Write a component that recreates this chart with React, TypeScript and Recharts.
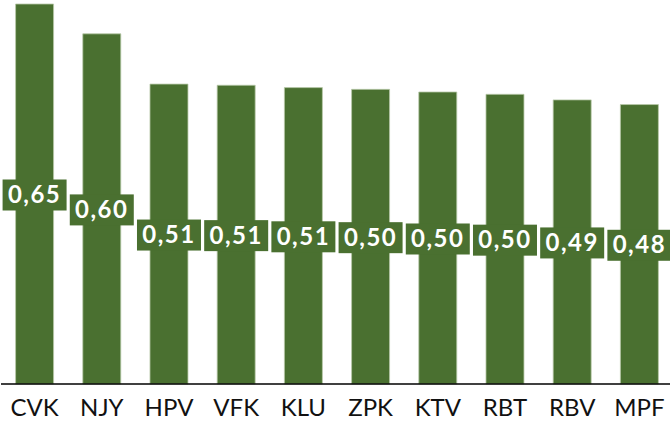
import { BarChart, Bar, XAxis, YAxis, LabelList } from 'recharts'

const categories = ['CVK', 'NJY', 'HPV', 'VFK', 'KLU', 'ZPK', 'KTV', 'RBT', 'RBV', 'MPF']
const values = [0.65, 0.599, 0.513, 0.511, 0.507, 0.504, 0.4995, 0.4955, 0.486, 0.478]

const data = categories.map((name, i) => ({ name, value: values[i] }))

const GREEN = '#4a7030'
const FONT = 'Lato, "Open Sans", sans-serif'

function fmt(v: number) {
  return v.toFixed(2).replace('.', ',')
}

function ValueLabel(props: any) {
  const { x, y, width, height, value } = props
  const cx = x + width / 2
  const cy = y + height / 2
  return (
    <g>
      <rect x={cx - 32} y={cy - 14.5} width={64} height={31} fill={GREEN} />
      <text
        x={cx}
        y={cy + 9}
        textAnchor="middle"
        fill="#ffffff"
        fontSize={24}
        fontWeight={700}
        fontFamily={FONT}
        letterSpacing={1.5}
      >
        {fmt(value)}
      </text>
    </g>
  )
}

function CategoryTick(props: any) {
  const { x, y, payload } = props
  return (
    <text x={x} y={y + 32} textAnchor="middle" fill="#111" fontSize={24} fontFamily={FONT}>
      {payload.value}
    </text>
  )
}

export default function App() {
  return (
    <div style={{ position: 'absolute', left: 0, top: 0, width: 670, height: 428, overflow: 'hidden' }}>
      <BarChart
        width={676}
        height={428}
        data={data}
        margin={{ top: 4, right: 3, bottom: 0, left: 1 }}
        barCategoryGap="21.7%"
      >
        <XAxis
          dataKey="name"
          height={44}
          tickLine={false}
          tickSize={0}
          tickMargin={0}
          axisLine={{ stroke: '#000', strokeWidth: 1.5 }}
          tick={<CategoryTick />}
          interval={0}
        />
        <YAxis hide domain={[0, 0.65]} />
        <Bar dataKey="value" fill={GREEN} stroke="#b9c9aa" strokeWidth={0.8} isAnimationActive={false}>
          <LabelList dataKey="value" content={<ValueLabel />} />
        </Bar>
      </BarChart>
    </div>
  )
}
